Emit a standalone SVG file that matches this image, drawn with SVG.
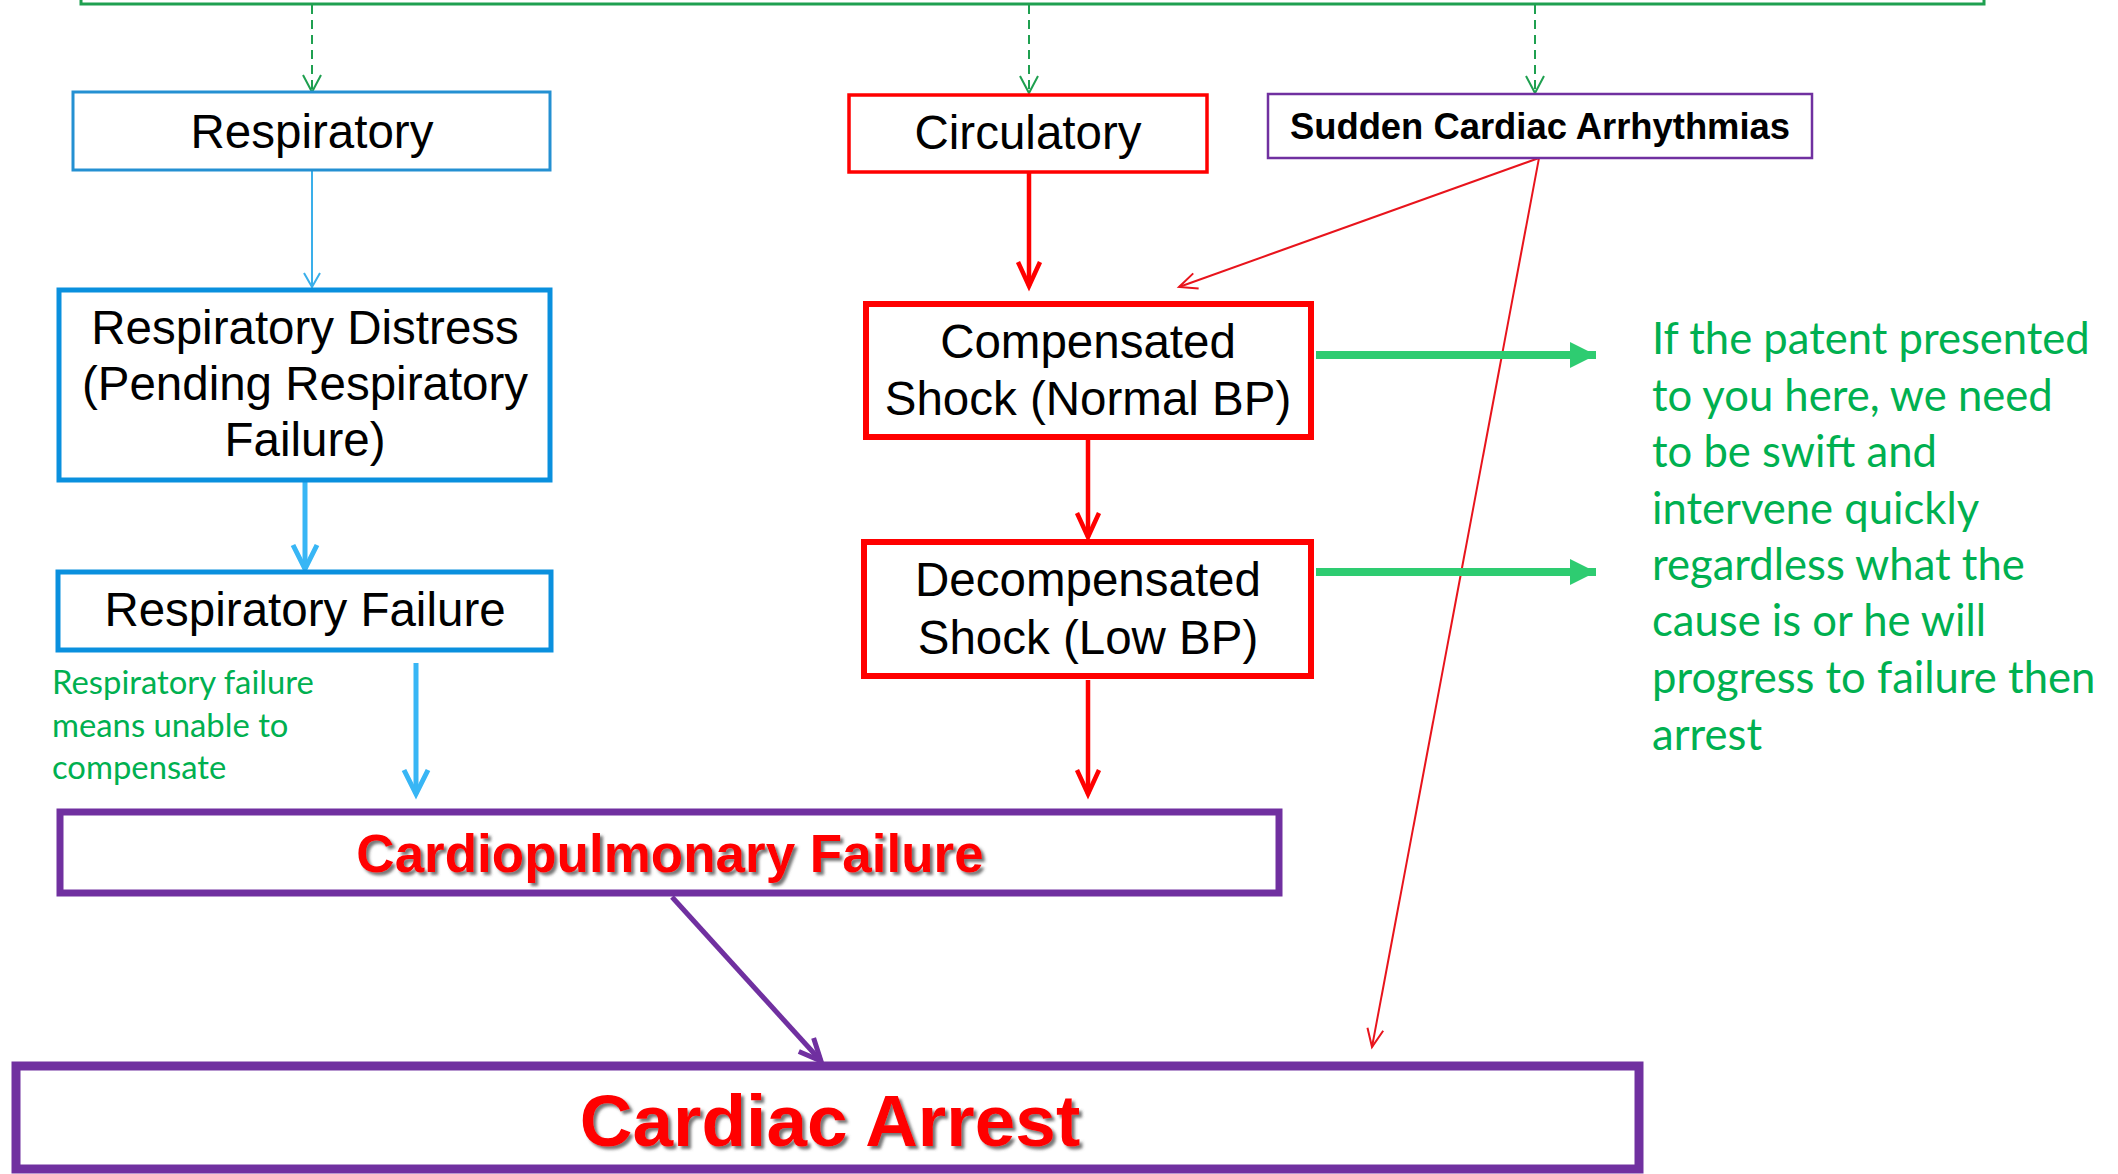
<svg xmlns="http://www.w3.org/2000/svg" width="2118" height="1174" viewBox="0 0 2118 1174">
<defs>
<style>
.node text{font-family:"Liberation Sans",Arial,sans-serif;fill:#000;text-anchor:middle}
.t46{font-size:47.5px}
.bold{font-weight:bold}
.red{fill:#FF0000 !important}
.note{font-family:Lato,"Open Sans",sans-serif;fill:#00B050}
.box{fill:#fff}
</style>
<marker id="mGreenDash" markerUnits="userSpaceOnUse" viewBox="-30 -15 32 30" refX="0" refY="0" markerWidth="32" markerHeight="30" orient="auto" overflow="visible"><path d="M-17,-9 L0,0 L-17,9" fill="none" stroke="#1FA050" stroke-width="2"/></marker>
<marker id="mBlueThin" markerUnits="userSpaceOnUse" viewBox="-30 -15 32 30" refX="0" refY="0" markerWidth="32" markerHeight="30" orient="auto" overflow="visible"><path d="M-14,-8 L0,0 L-14,8" fill="none" stroke="#3AAFEA" stroke-width="2"/></marker>
<marker id="mBlueThick" markerUnits="userSpaceOnUse" viewBox="-30 -15 32 30" refX="0" refY="0" markerWidth="32" markerHeight="30" orient="auto" overflow="visible"><path d="M-24,-12 L0,0 L-24,12" fill="none" stroke="#38B6F5" stroke-width="5" stroke-linejoin="miter"/></marker>
<marker id="mRedThick" markerUnits="userSpaceOnUse" viewBox="-30 -15 32 30" refX="0" refY="0" markerWidth="32" markerHeight="30" orient="auto" overflow="visible"><path d="M-24,-11 L0,0 L-24,11" fill="none" stroke="#FF0000" stroke-width="4.5"/></marker>
<marker id="mRedThin" markerUnits="userSpaceOnUse" viewBox="-30 -15 32 30" refX="0" refY="0" markerWidth="32" markerHeight="30" orient="auto" overflow="visible"><path d="M-18,-8 L0,0 L-18,8" fill="none" stroke="#E8141C" stroke-width="2"/></marker>
<marker id="mPurple" markerUnits="userSpaceOnUse" viewBox="-30 -15 32 30" refX="0" refY="0" markerWidth="32" markerHeight="30" orient="auto" overflow="visible"><path d="M-22,-10 L0,0 L-22,10" fill="none" stroke="#7030A0" stroke-width="5"/></marker>
<marker id="mGreenFill" markerUnits="userSpaceOnUse" viewBox="-30 -15 32 30" refX="0" refY="0" markerWidth="32" markerHeight="30" orient="auto" overflow="visible"><path d="M-26,-13 L0,0 L-26,13 Z" fill="#2ECC71"/></marker>
<filter id="shadow" x="-10%" y="-20%" width="120%" height="150%"><feDropShadow dx="3" dy="3" stdDeviation="1.5" flood-color="#555" flood-opacity="0.8"/></filter>
</defs>
<rect width="2118" height="1174" fill="#fff"/>

<g id="top-frame"><rect x="81" y="-30" width="1903" height="34" fill="none" stroke="#1FA050" stroke-width="3"/></g>

<g id="connectors">
<line x1="312" y1="5" x2="312" y2="92" stroke="#1FA050" stroke-width="2" stroke-dasharray="9 6" marker-end="url(#mGreenDash)"/>
<line x1="1029" y1="5" x2="1029" y2="93" stroke="#1FA050" stroke-width="2" stroke-dasharray="9 6" marker-end="url(#mGreenDash)"/>
<line x1="1535" y1="5" x2="1535" y2="93" stroke="#1FA050" stroke-width="2" stroke-dasharray="9 6" marker-end="url(#mGreenDash)"/>
<line x1="312" y1="170" x2="312" y2="287" stroke="#3AAFEA" stroke-width="2" marker-end="url(#mBlueThin)"/>
<line x1="305" y1="482" x2="305" y2="569" stroke="#38B6F5" stroke-width="5" marker-end="url(#mBlueThick)"/>
<line x1="416" y1="663" x2="416" y2="794" stroke="#38B6F5" stroke-width="5" marker-end="url(#mBlueThick)"/>
<line x1="1029" y1="172" x2="1029" y2="286" stroke="#FF0000" stroke-width="4.5" marker-end="url(#mRedThick)"/>
<line x1="1088" y1="440" x2="1088" y2="537" stroke="#FF0000" stroke-width="4.5" marker-end="url(#mRedThick)"/>
<line x1="1088" y1="680" x2="1088" y2="794" stroke="#FF0000" stroke-width="4.5" marker-end="url(#mRedThick)"/>
<line x1="1539" y1="158" x2="1179" y2="287" stroke="#E8141C" stroke-width="2" marker-end="url(#mRedThin)"/>
<line x1="1539" y1="158" x2="1372" y2="1047" stroke="#E8141C" stroke-width="2" marker-end="url(#mRedThin)"/>
<line x1="672" y1="897" x2="821" y2="1061" stroke="#7030A0" stroke-width="5" marker-end="url(#mPurple)"/>
<line x1="1316" y1="355" x2="1596" y2="355" stroke="#2ECC71" stroke-width="8" marker-end="url(#mGreenFill)"/>
<line x1="1316" y1="572" x2="1596" y2="572" stroke="#2ECC71" stroke-width="8" marker-end="url(#mGreenFill)"/>
</g>

<g id="respiratory" class="node"><rect class="box" x="73" y="92" width="477" height="78" stroke="#2490D2" stroke-width="3"/><text class="t46" x="312" y="148">Respiratory</text></g>

<g id="circulatory" class="node"><rect class="box" x="849" y="95" width="358" height="77" stroke="#FF0000" stroke-width="3.5"/><text class="t46" x="1028" y="149">Circulatory</text></g>

<g id="sudden" class="node"><rect class="box" x="1268" y="94" width="544" height="64" stroke="#7030A0" stroke-width="2.5"/><text class="bold" x="1540" y="139" font-size="36.4">Sudden Cardiac Arrhythmias</text></g>

<g id="resp-distress" class="node"><rect class="box" x="59" y="290" width="491" height="190" stroke="#0A90DE" stroke-width="5"/><text class="t46" x="305" y="344">Respiratory Distress</text><text class="t46" x="305" y="400">(Pending Respiratory</text><text class="t46" x="305" y="456">Failure)</text></g>

<g id="resp-failure" class="node"><rect class="box" x="58" y="572" width="493" height="78" stroke="#0A90DE" stroke-width="5"/><text class="t46" x="305" y="626">Respiratory Failure</text></g>

<g id="note-left"><text class="note" font-size="32.8"><tspan x="52" y="694">Respiratory failure</tspan><tspan x="52" y="737">means unable to</tspan><tspan x="52" y="779">compensate</tspan></text></g>

<g id="compensated" class="node"><rect class="box" x="866" y="304" width="445" height="133" stroke="#FF0000" stroke-width="6"/><text class="t46" x="1088" y="358">Compensated</text><text class="t46" x="1088" y="415">Shock (Normal BP)</text></g>

<g id="decompensated" class="node"><rect class="box" x="864" y="542" width="447" height="134" stroke="#FF0000" stroke-width="6"/><text class="t46" x="1088" y="596">Decompensated</text><text class="t46" x="1088" y="654">Shock (Low BP)</text></g>

<g id="note-right"><text class="note" font-size="43.6"><tspan x="1652" y="354">If the patent presented</tspan><tspan x="1652" y="411">to you here, we need</tspan><tspan x="1652" y="467">to be swift and</tspan><tspan x="1652" y="524">intervene quickly</tspan><tspan x="1652" y="580">regardless what the</tspan><tspan x="1652" y="636">cause is or he will</tspan><tspan x="1652" y="693">progress to failure then</tspan><tspan x="1652" y="750">arrest</tspan></text></g>

<g id="cardiopulmonary" class="node"><rect class="box" x="60" y="812" width="1219" height="81" stroke="#7030A0" stroke-width="7"/><text class="bold red" x="670" y="872" font-size="53" filter="url(#shadow)">Cardiopulmonary Failure</text></g>

<g id="cardiac-arrest" class="node"><rect class="box" x="16" y="1066" width="1623" height="103" stroke="#7030A0" stroke-width="9"/><text class="bold red" x="830" y="1146" font-size="73" filter="url(#shadow)">Cardiac Arrest</text></g>
</svg>
